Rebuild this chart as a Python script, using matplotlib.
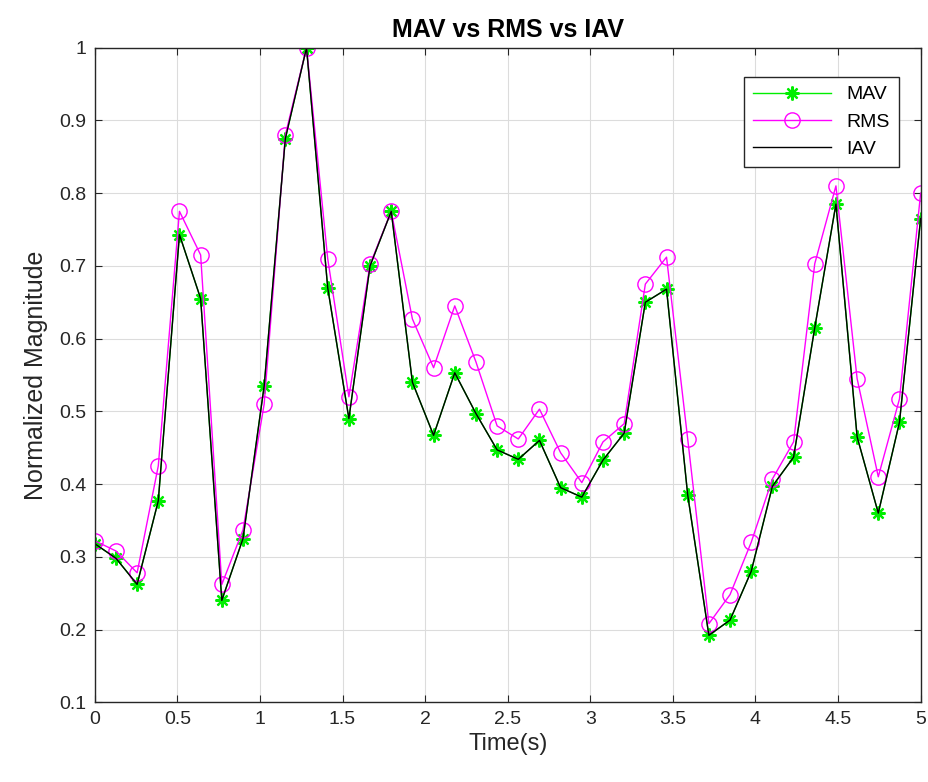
import numpy as np
import matplotlib.pyplot as plt

plt.rcParams['font.family'] = ['Liberation Sans', 'DejaVu Sans']

# 40 samples over 5 s
time = np.linspace(0, 5, 40)

mav = [0.318, 0.298, 0.262, 0.377, 0.743, 0.655, 0.240, 0.325, 0.535, 0.875,
       1.000, 0.670, 0.490, 0.700, 0.775, 0.540, 0.467, 0.553, 0.497, 0.447,
       0.434, 0.460, 0.395, 0.382, 0.433, 0.470, 0.650, 0.668, 0.385, 0.192,
       0.213, 0.280, 0.397, 0.437, 0.615, 0.785, 0.465, 0.360, 0.485, 0.765]

rms = [0.322, 0.308, 0.278, 0.425, 0.775, 0.715, 0.262, 0.337, 0.510, 0.880,
       1.000, 0.710, 0.520, 0.702, 0.775, 0.627, 0.560, 0.645, 0.568, 0.480,
       0.462, 0.503, 0.443, 0.402, 0.458, 0.483, 0.675, 0.712, 0.462, 0.208,
       0.248, 0.320, 0.407, 0.458, 0.703, 0.810, 0.545, 0.410, 0.517, 0.800]

iav = [0.318, 0.298, 0.262, 0.377, 0.743, 0.655, 0.240, 0.325, 0.535, 0.875,
       1.000, 0.670, 0.490, 0.700, 0.775, 0.540, 0.467, 0.553, 0.497, 0.447,
       0.434, 0.460, 0.395, 0.382, 0.433, 0.470, 0.650, 0.668, 0.385, 0.192,
       0.213, 0.280, 0.397, 0.437, 0.615, 0.785, 0.465, 0.360, 0.485, 0.765]

xticks = [0, 0.5, 1, 1.5, 2, 2.5, 3, 3.5, 4, 4.5, 5]
yticks = [0.1, 0.2, 0.3, 0.4, 0.5, 0.6, 0.7, 0.8, 0.9, 1]

fig = plt.figure(figsize=(9.29, 7.82), dpi=100)
ax = fig.add_axes([0.102, 0.102, 0.889, 0.837])

# MATLAB-style asterisk marker
ax.plot(time, mav, color='#00ee00', marker=(8, 2, 0), markersize=10,
        markeredgewidth=1.6, linewidth=1, label='MAV')
ax.plot(time, rms, color='#ff00ff', marker='o', markersize=11, markerfacecolor='none',
        linewidth=1, label='RMS')
ax.plot(time, iav, color='black', linewidth=1, label='IAV')

ax.set_xlim(0, 5)
ax.set_ylim(0.1, 1)
ax.set_xticks(xticks)
ax.set_xticklabels([f'{v:g}' for v in xticks])
ax.set_yticks(yticks)
ax.set_yticklabels([f'{v:g}' for v in yticks])

ax.grid(True, color='#dcdcdc', linewidth=0.8)
ax.set_axisbelow(True)
ax.tick_params(direction='in', top=True, right=True, labelsize=14, colors='#262626',
               length=5, pad=6)
for s in ax.spines.values():
    s.set_color('#262626')
    s.set_linewidth(1)

ax.set_xlabel('Time(s)', fontsize=17, color='#262626', labelpad=4)
ax.set_ylabel('Normalized Magnitude', fontsize=18, color='#262626', labelpad=8)
ax.set_title('MAV vs RMS vs IAV', fontsize=18, fontweight='bold', color='black', pad=8)

leg = ax.legend(loc='upper right', fontsize=14, fancybox=False, framealpha=1,
                edgecolor='#262626', bbox_to_anchor=(0.985, 0.97), handlelength=4,
                labelspacing=0.5, borderpad=0.45)
leg.get_frame().set_linewidth(1)

fig.savefig('out.png', dpi=100)
